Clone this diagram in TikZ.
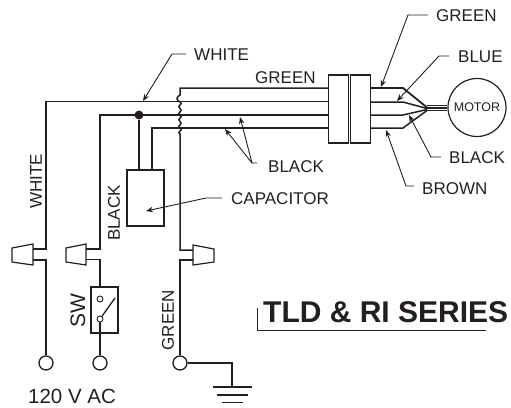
\documentclass[tikz,border=0pt]{standalone}
\usepackage{fontspec}
\setmainfont{Liberation Sans}
\usetikzlibrary{arrows.meta}
\definecolor{ink}{HTML}{231F20}
\tikzset{
  wire/.style={draw=ink,line width=1.5pt},
  thin wire/.style={draw=ink,line width=1.3pt},
  leader/.style={draw=ink,line width=0.9pt,-{Stealth[length=7pt,width=5.5pt]}},
  lab/.style={text=ink,font=\fontsize{17}{17}\selectfont,inner sep=0pt},
  terminal/.style={circle,draw=ink,line width=1.3pt,fill=white,minimum size=14pt,inner sep=0pt},
  wedge/.style={draw=ink,line width=1.2pt,fill=white},
}
\begin{document}
\begin{tikzpicture}[x=1pt,y=-1pt]
\useasboundingbox (0,0) rectangle (511,407);
% nodes
\node[terminal] (t1) at (46,363) {};
\node[terminal] (t2) at (100,363) {};
\node[terminal] (t3) at (180,363) {};
\node[circle,draw=ink,line width=1.2pt,minimum size=58pt,inner sep=0pt,text=ink,font=\fontsize{12.5}{13}\selectfont] (motor) at (477,107.5) {MOTOR};
\node[draw=ink,line width=1.2pt,minimum width=37pt,minimum height=56pt,inner sep=0pt] (cap) at (145.5,198) {};
\node[draw=ink,line width=1.1pt,minimum width=27pt,minimum height=46pt,inner sep=0pt] (sw) at (104.5,310) {};
\node[draw=ink,line width=1.2pt,minimum width=19.5pt,minimum height=68pt,inner sep=0pt] (cl) at (338.5,109) {};
\node[draw=ink,line width=1.2pt,minimum width=19.5pt,minimum height=68pt,inner sep=0pt] (cr) at (360.5,109) {};
\coordinate (hub1) at (427,107.5);
\coordinate (hub2) at (427,108.5);
\coordinate (hub3) at (427,109.5);
\coordinate (hub4) at (427,110.5);
\coordinate (swtop) at (100,287);
\coordinate (swbot) at (100,333);
% white
\draw[thin wire] (t1) -- (46,260) -- (33,260);
\draw[thin wire] (33,249) -- (46,249) -- (46,101.5) -- (329,101.5);
% black
\draw[wire] (86,249) -- (100,249) -- (100,115) -- (329,115);
\draw[thin wire] (86,259.5) -- (100,259.5) -- (swtop);
\draw[thin wire] (swbot) -- (t2);
\draw[thin wire] (100,333) -- (100,322);
\node[circle,draw=ink,line width=0.9pt,fill=white,minimum size=6pt,inner sep=0pt] (c1) at (100,299) {};
\node[circle,draw=ink,line width=0.9pt,fill=white,minimum size=6pt,inner sep=0pt] (c2) at (100,319) {};
\draw[thin wire] (c2) -- (115,298);
% cap
\node[circle,fill=ink,minimum size=9pt,inner sep=0pt] (dot) at (139,115) {};
\draw[wire] (dot) -- (cap.north -| dot);
\draw[wire] (152,170) -- (152,128) -- (329,128);
% green
\draw[wire] (329,88) -- (180,88) -- (180,95)
  .. controls (176,97) and (176,100) .. (180,102)
  .. controls (184,104) and (176,106) .. (180,108.5)
  .. controls (184,111) and (176,113) .. (180,115)
  .. controls (184,117) and (176,119) .. (180,121.5)
  .. controls (184,124) and (176,126) .. (180,128)
  .. controls (184,130) and (176,132) .. (180,134) -- (180,250) -- (193,250);
\draw[wire] (193,260) -- (180,260) -- (t3);
\draw[wire] (t3) -- (232,363) -- (232,387);
\draw[wire] (213,387) -- (252,387);
\draw[wire] (217,395) -- (248,395);
\draw[wire] (222,402.5) -- (243,402.5);
% wire nuts
\draw[wedge] (33,244) -- (12,248) -- (12,262) -- (33,265) -- cycle;
\draw[wedge] (86,244) -- (66,248) -- (66,262) -- (86,265) -- cycle;
\draw[wedge] (193,245) -- (214,249) -- (214,262) -- (193,265) -- cycle;
% motor leads
\draw[wire,line width=1.8pt] (370,88) -- (403,88) -- (hub1);
\draw[wire] (370,102) -- (403,102) -- (hub2);
\draw[wire] (370,115) -- (403,115) -- (hub3);
\draw[wire] (370,128) -- (403,128) -- (hub4);
\foreach \y in {105.5,107,108.5,110} \draw[draw=ink,line width=0.9pt] (427,\y) -- (motor.west |- 0,\y);
% leaders
\draw[leader] (428,15) -- (408,15) -- (381,87);
\draw[leader] (449,56) -- (439,56) -- (397,101);
\draw[leader] (441,157) -- (431,157) -- (409,115);
\draw[leader] (414,186) -- (406,186) -- (386,130);
\draw[leader] (186,54) -- (172,54) -- (143,101);
\draw[leader] (257,163) -- (252,163) -- (240,117);
\draw[leader] (252,163) -- (225,129);
\draw[leader] (222,198) -- (206,198) -- (146,211);
% underline of title
\draw[draw=ink,line width=1pt] (257,308) -- (257,330.7) -- (486,330.7);
% labels
\node[lab,anchor=west] (l1) at (436,16) {GREEN};
\node[lab,anchor=west] (l2) at (458,57) {BLUE};
\node[lab,anchor=west] (l3) at (449,158) {BLACK};
\node[lab,anchor=west] (l4) at (422,189) {BROWN};
\node[lab,anchor=west] (l5) at (194,55) {WHITE};
\node[lab,anchor=west] (l6) at (255,78) {GREEN};
\node[lab,anchor=west] (l7) at (268,167) {BLACK};
\node[lab,anchor=west] (l8) at (231,199) {CAPACITOR};
\node[lab,rotate=90] (l9) at (36,181.5) {WHITE};
\node[lab,rotate=90] (l10) at (114,213) {BLACK};
\node[lab,rotate=90,font=\fontsize{21}{21}\selectfont] (l11) at (78,311) {SW};
\node[lab,rotate=90] (l12) at (168,320) {GREEN};
\node[lab,anchor=west,font=\fontsize{20.5}{21}\selectfont] (l13) at (28,396) {120 V AC};
\node[lab,anchor=base west,font=\bfseries\fontsize{30}{30}\selectfont] (l14) at (263,322) {TLD \& RI SERIES};
\end{tikzpicture}
\end{document}
